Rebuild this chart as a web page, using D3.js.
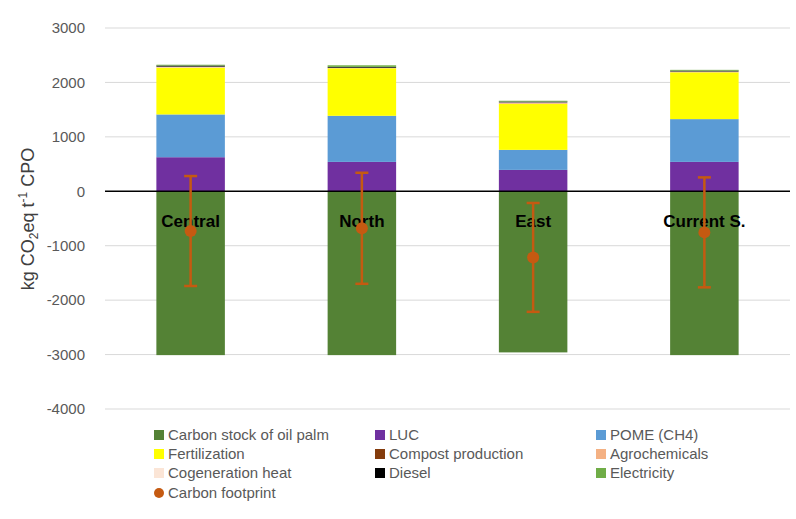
<!DOCTYPE html>
<html>
<head>
<meta charset="utf-8">
<script src="https://cdn.jsdelivr.net/npm/d3@7"></script>
<style>
  body { margin: 0; background: #fff; }
  text { font-family: "Liberation Sans", Arial, sans-serif; }
</style>
</head>
<body>
<svg id="chart" width="796" height="519"></svg>
<script>
'use strict';

const categories = ['Central', 'North', 'East', 'Current S.'];
const yTicks = [3000, 2000, 1000, 0, -1000, -2000, -3000, -4000];

// stacked series, bottom to top
const carbonStock  = [-3010, -3010, -2960, -3010];
const luc          = [626, 540, 393, 540];
const pome         = [786, 847, 368, 786];
const fertilization = [858, 873, 847, 860];
const compost      = [0, 0, 0, 0];
const agrochemicals = [10, 5, 15, 10];
const cogeneration = [10, 5, 10, 5];
const diesel       = [20, 15, 15, 15];
const electricity  = [15, 30, 15, 15];

const footprint    = [-730, -680, -1215, -755];
const footprintErr = [1010, 1020, 1000, 1010];

const series = [
    {name: 'Carbon stock of oil palm', values: carbonStock, color: '#548235'},
    {name: 'LUC', values: luc, color: '#7030A0'},
    {name: 'POME (CH4)', values: pome, color: '#5B9BD5'},
    {name: 'Fertilization', values: fertilization, color: '#FFFF00'},
    {name: 'Compost production', values: compost, color: '#843C0C'},
    {name: 'Agrochemicals', values: agrochemicals, color: '#F4B183'},
    {name: 'Cogeneration heat', values: cogeneration, color: '#FBE5D6'},
    {name: 'Diesel', values: diesel, color: '#000000'},
    {name: 'Electricity', values: electricity, color: '#70AD47'}
];
const footColor = '#C55A11';

const svg = d3.select('#chart');

const x = d3.scaleBand()
    .domain(categories)
    .range([105, 790])
    .paddingInner(0.6)
    .paddingOuter(0.3);

const y = d3.scaleLinear()
    .domain([-4000, 3000])
    .range([409, 28]);

// gridlines
svg.append('g')
    .selectAll('line')
    .data(yTicks.filter(d => d !== 0))
    .enter()
    .append('line')
    .attr('x1', 105)
    .attr('x2', 790)
    .attr('y1', d => y(d))
    .attr('y2', d => y(d))
    .style('stroke', '#d9d9d9')
    .style('stroke-width', 1);

// y axis labels
const yAxis = svg.append('g')
    .attr('transform', 'translate(105,0)')
    .call(d3.axisLeft(y).tickValues(yTicks).tickSize(0).tickPadding(20).tickFormat(d => String(d)));
yAxis.select('.domain').remove();
yAxis.selectAll('text')
    .style('font-size', '15px')
    .style('fill', '#595959')
    .style('font-family', '"Liberation Sans", Arial, sans-serif');

// stacked bars
const posBase = categories.map(() => 0);
series.forEach(function(s) {
    svg.append('g')
        .selectAll('rect')
        .data(s.values)
        .enter()
        .append('rect')
        .attr('x', (d, i) => x(categories[i]))
        .attr('width', x.bandwidth())
        .attr('y', function(d, i) {
            if (d < 0) return y(0);
            return y(posBase[i] + d);
        })
        .attr('height', function(d, i) {
            let h;
            if (d < 0) h = y(d) - y(0);
            else h = y(posBase[i]) - y(posBase[i] + d);
            if (d > 0) posBase[i] += d;
            return h;
        })
        .style('fill', s.color);
});

// zero line
svg.append('line')
    .attr('x1', 105)
    .attr('x2', 790)
    .attr('y1', y(0))
    .attr('y2', y(0))
    .style('stroke', '#000')
    .style('stroke-width', 1.5);

// category labels
svg.append('g')
    .selectAll('text')
    .data(categories)
    .enter()
    .append('text')
    .attr('x', d => x(d) + x.bandwidth() / 2)
    .attr('y', 227)
    .attr('text-anchor', 'middle')
    .style('font-size', '17px')
    .style('font-weight', 'bold')
    .style('fill', '#000')
    .text(d => d);

// carbon footprint with error bars
const fp = svg.append('g');
footprint.forEach(function(v, i) {
    const cx = x(categories[i]) + x.bandwidth() / 2;
    const e = footprintErr[i];
    fp.append('line')
        .attr('x1', cx).attr('x2', cx)
        .attr('y1', y(v + e)).attr('y2', y(v - e))
        .style('stroke', footColor).style('stroke-width', 2.5);
    [v + e, v - e].forEach(function(t) {
        fp.append('line')
            .attr('x1', cx - 6.5).attr('x2', cx + 6.5)
            .attr('y1', y(t)).attr('y2', y(t))
            .style('stroke', footColor).style('stroke-width', 2.5);
    });
    fp.append('circle')
        .attr('cx', cx)
        .attr('cy', y(v))
        .attr('r', 6)
        .style('fill', footColor);
});

// y axis title
svg.append('text')
    .attr('transform', 'translate(34,219) rotate(-90)')
    .attr('text-anchor', 'middle')
    .style('font-size', '18px')
    .style('fill', '#404040')
    .call(function(t) {
        t.append('tspan').text('kg CO');
        t.append('tspan').attr('dy', 4).style('font-size', '12px').text('2');
        t.append('tspan').attr('dy', -4).text('eq t');
        t.append('tspan').attr('dy', -7).style('font-size', '12px').text('-1');
        t.append('tspan').attr('dy', 7).text(' CPO');
    });

// legend
const legendItems = series.map(s => ({name: s.name, color: s.color, type: 'rect'}));
legendItems.push({name: 'Carbon footprint', color: footColor, type: 'circle'});
const colX = [154, 375, 596];
const rowY = [435, 454, 473, 493];

const leg = svg.append('g')
    .selectAll('g')
    .data(legendItems)
    .enter()
    .append('g')
    .attr('transform', (d, i) => 'translate(' + colX[i % 3] + ',' + rowY[Math.floor(i / 3)] + ')');

leg.filter(d => d.type === 'rect')
    .append('rect')
    .attr('x', 0).attr('y', -5)
    .attr('width', 10).attr('height', 10)
    .style('fill', d => d.color);
leg.filter(d => d.type === 'circle')
    .append('circle')
    .attr('cx', 5).attr('cy', 0).attr('r', 5)
    .style('fill', d => d.color);
leg.append('text')
    .attr('x', 14)
    .attr('y', 5)
    .style('font-size', '15px')
    .style('fill', '#595959')
    .text(d => d.name);
</script>
</body>
</html>
